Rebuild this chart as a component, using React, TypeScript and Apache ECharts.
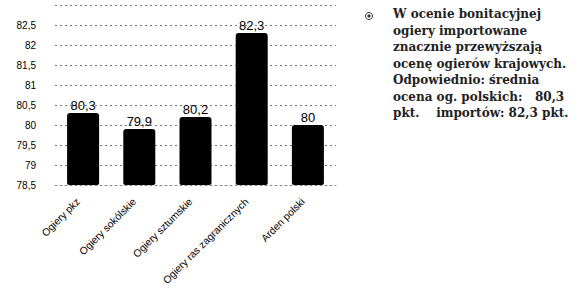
import React, { useEffect, useRef } from "react";
import * as echarts from "echarts";

const categories = [
  "Ogiery pkz",
  "Ogiery sokólskie",
  "Ogiery sztumskie",
  "Ogiery ras zagranicznych",
  "Arden polski",
];
const values = [80.3, 79.9, 80.2, 82.3, 80];
const yMin = 78.5;
const yMax = 83;
const yStep = 0.5;
const noteLines = [
  "W ocenie bonitacyjnej",
  "ogiery importowane",
  "znacznie przewyższają",
  "ocenę ogierów krajowych.",
  "Odpowiednio: średnia",
  "ocena og. polskich:   80,3",
  "pkt.    importów: 82,3 pkt.",
];

const comma = (v: number) => String(v).replace(".", ",");

export default function App() {
  const ref = useRef<HTMLDivElement>(null);
  useEffect(() => {
    if (!ref.current) return;
    const chart = echarts.init(ref.current, null, { renderer: "svg" });
    const textEls: any[] = noteLines.map((t, i) => ({
      type: "text",
      left: 393,
      top: 8 + i * 16.5,
      style: {
        text: t,
        fontFamily: "DejaVu Serif",
        fontSize: 12,
        fontWeight: "bold",
        fill: "#222",
      },
    }));
    chart.setOption({
      animation: false,
      backgroundColor: "#ffffff",
      grid: {
        left: 55,
        right: 244,
        top: 5,
        height: 180,
        containLabel: false,
        outerBoundsMode: "none",
      },
      xAxis: {
        type: "category",
        data: categories,
        axisLine: { show: true, lineStyle: { color: "#888", type: [2, 3] } },
        axisTick: { show: false },
        axisLabel: {
          rotate: 45,
          interval: 0,
          margin: 10,
          padding: [0, 7, 0, 0],
          fontFamily: "Liberation Sans, Arial, sans-serif",
          fontSize: 10.3,
          color: "#000",
        },
      },
      yAxis: {
        type: "value",
        min: yMin,
        max: yMax,
        interval: yStep,
        axisLine: { show: false },
        axisTick: { show: false },
        axisLabel: {
          margin: 19,
          fontFamily: "Liberation Sans, Arial, sans-serif",
          fontSize: 10,
          color: "#000",
          formatter: (v: number) => (v >= yMax ? "" : comma(v)),
        },
        splitLine: { show: true, lineStyle: { color: "#777", type: [2, 3], width: 1 } },
      },
      series: [
        {
          type: "bar",
          data: values,
          barWidth: 32,
          itemStyle: { color: "#000", borderRadius: [3, 3, 2, 2] },
          label: {
            show: true,
            position: "top",
            distance: 1,
            fontFamily: "Liberation Sans, Arial, sans-serif",
            fontSize: 13,
            color: "#000",
            formatter: (p: any) => comma(p.value),
          },
        },
      ],
      graphic: [
        {
          type: "circle",
          shape: { cx: 369, cy: 16, r: 3.5 },
          style: { fill: "none", stroke: "#333", lineWidth: 1 },
        },
        {
          type: "circle",
          shape: { cx: 369, cy: 16, r: 1.6 },
          style: { fill: "#333" },
        },
        ...textEls,
      ],
    });
    return () => chart.dispose();
  }, []);
  return (
    <div
      ref={ref}
      style={{ position: "fixed", left: 0, top: 0, width: 580, height: 293 }}
    />
  );
}
